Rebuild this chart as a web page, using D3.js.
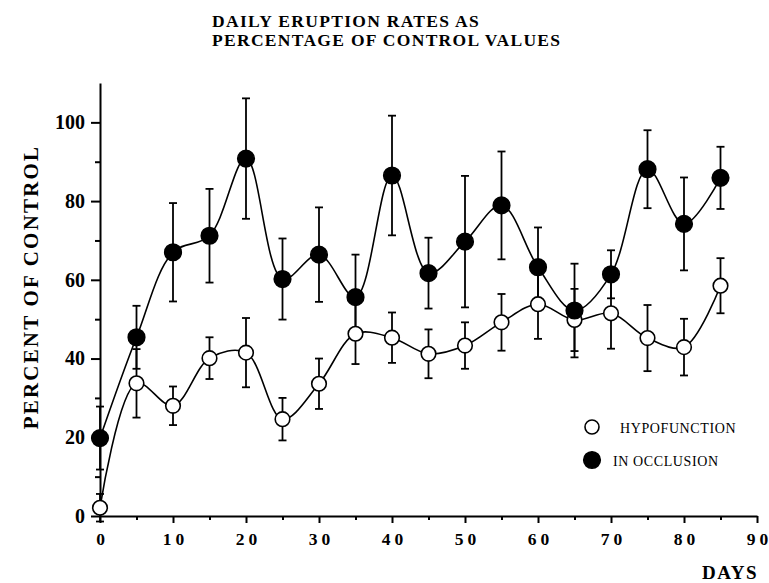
<!DOCTYPE html>
<html>
<head>
<meta charset="utf-8">
<script src="https://cdn.jsdelivr.net/npm/d3@7"></script>
<style>
  body { margin: 0; background: #fff; }
  svg { display: block; }
  text { font-family: "Liberation Serif", "Times New Roman", serif; fill: #000; }
</style>
</head>
<body>
<div id="chart"></div>
<script>
// Data (days, percent of control, +/- error)
const days = [0, 5, 10, 15, 20, 25, 30, 35, 40, 45, 50, 55, 60, 65, 70, 75, 80, 85];
const occlusion = [19.8, 45.4, 67.0, 71.2, 90.8, 60.2, 66.4, 55.6, 86.5, 61.7, 69.7, 78.9, 63.2, 52.2, 61.4, 88.1, 74.2, 85.9];
const occlusionErr = [8, 8, 12.5, 11.9, 15.3, 10.3, 12, 10.8, 15.2, 9, 16.7, 13.7, 10.1, 11.9, 6.1, 9.9, 11.8, 7.9];
const hypo = [2.1, 33.7, 28.0, 40.1, 41.5, 24.6, 33.6, 46.3, 45.3, 41.2, 43.3, 49.2, 53.8, 49.8, 51.5, 45.2, 42.9, 58.5];
const hypoErr = [3.5, 8.7, 4.9, 5.3, 8.8, 5.4, 6.4, 7.7, 6.4, 6.2, 5.9, 7.2, 8.8, 7.9, 9, 8.4, 7.2, 7];
const xTicks = [0, 10, 20, 30, 40, 50, 60, 70, 80, 90];
const xMinor = [5, 15, 25, 35, 45, 55, 65, 75, 85];
const yTicks = [0, 20, 40, 60, 80, 100];
const yMinor = [10, 30, 50, 70, 90];

const W = 769, H = 583;
const svg = d3.select("#chart").append("svg")
  .attr("width", W)
  .attr("height", H);

// scales
const x = d3.scaleLinear().domain([0, 90]).range([100, 757]);
const y = d3.scaleLinear().domain([0, 110]).range([516, 83]);

// title
const titleLines = ["DAILY ERUPTION RATES AS", "PERCENTAGE OF CONTROL VALUES"];
titleLines.forEach((t, i) => {
  svg.append("text")
    .attr("x", 212).attr("y", 27 + i * 19)
    .style("font-size", "17.5px").style("font-weight", "bold")
    .style("letter-spacing", "1.3px")
    .text(t);
});

// x axis
const xAxis = svg.append("g")
  .attr("transform", `translate(0,${y(0)})`)
  .call(d3.axisBottom(x).tickValues(xTicks).tickSize(7).tickSizeOuter(0).tickPadding(10));
// spaced-out digits, no trailing spacing so the last label stays inside
xAxis.selectAll(".tick text")
  .style("font-size", "17.5px").style("font-weight", "bold")
  .attr("font-family", null)
  .each(function(d) {
    const t = d3.select(this);
    t.text(null);
    String(d).split("").forEach((c, i) => {
      t.append("tspan").attr("dx", i ? 4 : 0).text(c);
    });
  });
svg.append("g")
  .attr("transform", `translate(0,${y(0)})`)
  .call(d3.axisBottom(x).tickValues(xMinor).tickSize(4).tickFormat(""))
  .select(".domain").remove();

// y axis
const yAxis = svg.append("g")
  .attr("transform", `translate(${x(0)},0)`)
  .call(d3.axisLeft(y).tickValues(yTicks).tickSize(9).tickSizeOuter(0).tickPadding(6));
yAxis.selectAll("text")
  .style("font-size", "20px").style("font-weight", "bold")
  .attr("font-family", null);
svg.append("g")
  .attr("transform", `translate(${x(0)},0)`)
  .call(d3.axisLeft(y).tickValues(yMinor).tickSize(5).tickFormat(""))
  .select(".domain").remove();

svg.selectAll(".domain, .tick line")
  .attr("stroke", "#000")
  .attr("stroke-width", 2);

// axis titles
svg.append("text")
  .attr("transform", "translate(38,287) rotate(-90)")
  .attr("text-anchor", "middle")
  .style("font-size", "21px").style("font-weight", "bold")
  .style("letter-spacing", "2.2px")
  .text("PERCENT OF CONTROL");
svg.append("text")
  .attr("x", 758).attr("y", 579)
  .attr("text-anchor", "end")
  .style("font-size", "19px").style("font-weight", "bold")
  .style("letter-spacing", "1.5px")
  .text("DAYS");

// series
const series = [
  { name: "hypo", values: hypo, err: hypoErr, fill: "#fff" },
  { name: "occl", values: occlusion, err: occlusionErr, fill: "#000" }
];

const line = d3.line()
  .x(d => x(d.day))
  .y(d => y(d.value))
  .curve(d3.curveCatmullRom.alpha(0.5));

series.forEach(s => {
  s.points = days.map((day, i) => ({ day, value: s.values[i], err: s.err[i] }));
});

// lines
series.forEach(s => {
  svg.append("path")
    .datum(s.points)
    .attr("d", line)
    .attr("fill", "none")
    .attr("stroke", "#000")
    .attr("stroke-width", 1.6);
});

// error bars
const cap = 4;
series.forEach(s => {
  const g = svg.append("g").attr("stroke", "#000").attr("stroke-width", 1.8);
  g.selectAll("line.v").data(s.points).enter().append("line")
    .attr("x1", d => x(d.day)).attr("x2", d => x(d.day))
    .attr("y1", d => y(d.value + d.err)).attr("y2", d => y(d.value - d.err));
  g.selectAll("line.t").data(s.points).enter().append("line")
    .attr("x1", d => x(d.day) - cap).attr("x2", d => x(d.day) + cap)
    .attr("y1", d => y(d.value + d.err)).attr("y2", d => y(d.value + d.err));
  g.selectAll("line.b").data(s.points).enter().append("line")
    .attr("x1", d => x(d.day) - cap).attr("x2", d => x(d.day) + cap)
    .attr("y1", d => y(d.value - d.err)).attr("y2", d => y(d.value - d.err));
});

// markers
series.forEach(s => {
  svg.append("g").selectAll("circle").data(s.points).enter().append("circle")
    .attr("cx", d => x(d.day))
    .attr("cy", d => y(d.value))
    .attr("r", s.fill === "#000" ? 8.3 : 7.3)
    .attr("fill", s.fill)
    .attr("stroke", "#000")
    .attr("stroke-width", 1.6);
});

// legend
const legend = svg.append("g");
const legendItems = [
  { label: "HYPOFUNCTION", fill: "#fff", tx: 620, cy: 427 },
  { label: "IN OCCLUSION", fill: "#000", tx: 613, cy: 460 }
];
legendItems.forEach(item => {
  legend.append("circle")
    .attr("cx", 592).attr("cy", item.cy)
    .attr("r", item.fill === "#000" ? 8.3 : 7)
    .attr("fill", item.fill)
    .attr("stroke", "#000")
    .attr("stroke-width", 1.6);
  legend.append("text")
    .attr("x", item.tx).attr("y", item.cy + 6)
    .style("font-size", "14px")
    .style("letter-spacing", "0.6px")
    .text(item.label);
});
</script>
</body>
</html>
